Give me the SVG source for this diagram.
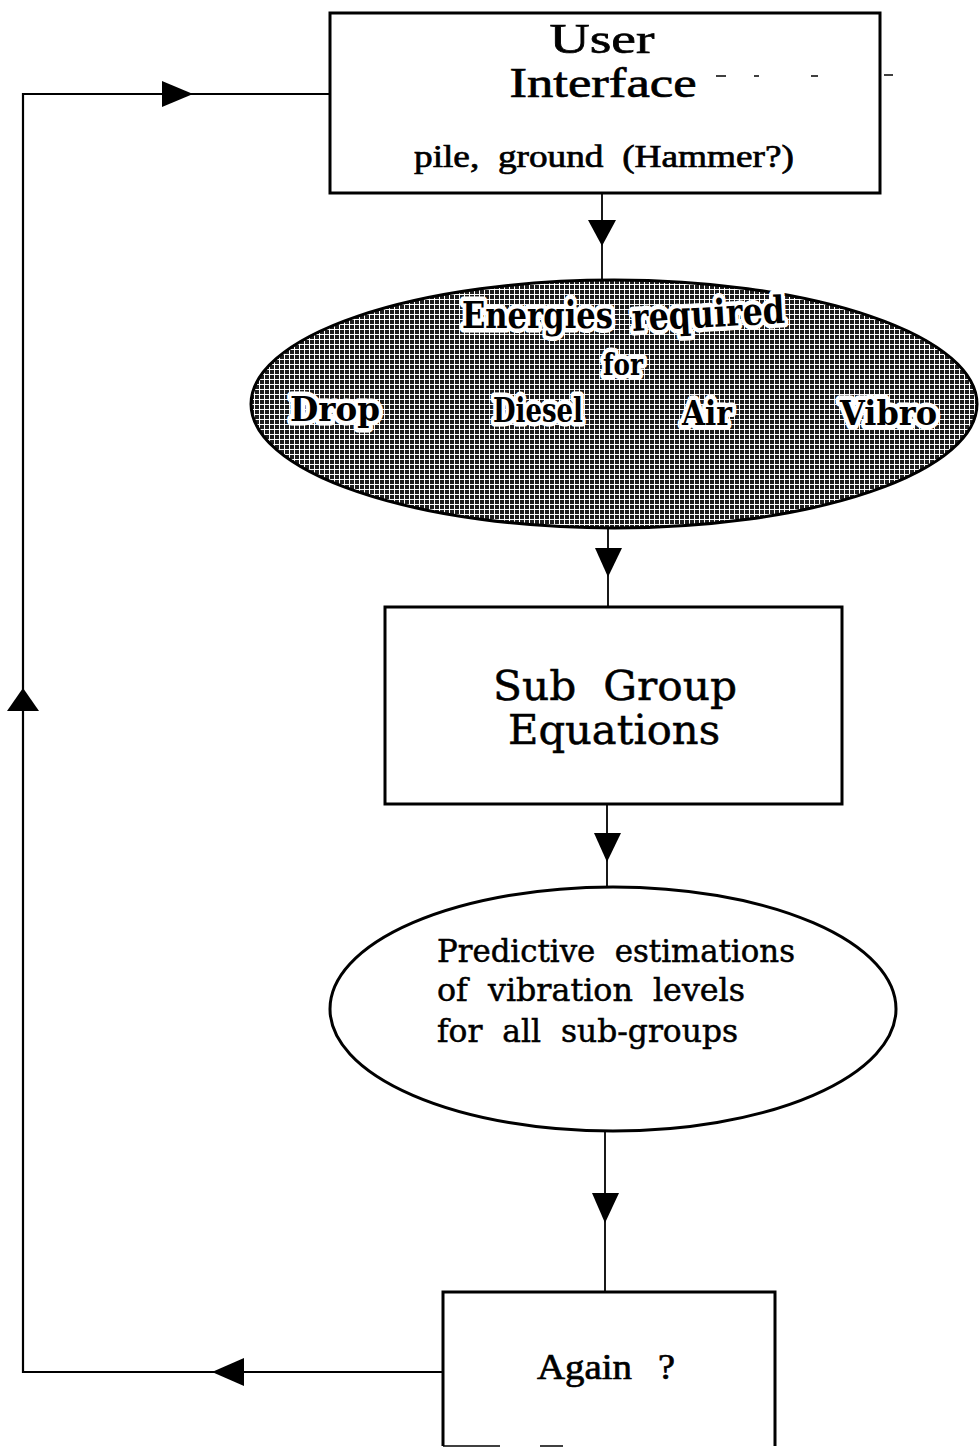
<svg xmlns="http://www.w3.org/2000/svg" width="979" height="1449" viewBox="0 0 979 1449">
<style>
.box{fill:#fff;stroke:#000;stroke-width:3}
.ell{stroke:#000;stroke-width:3}
.ln{fill:none;stroke:#000;stroke-width:1.8}
.loop{fill:none;stroke:#000;stroke-width:2.2}
.ah{fill:#000;stroke:none}
.t{font-family:"Liberation Serif","Times New Roman",serif;fill:#000;stroke:#000;stroke-width:0.7}
.s{font-family:"DejaVu Serif","Liberation Serif",serif;fill:#000;stroke:#000;stroke-width:0.5}
.b{font-family:"DejaVu Serif","Liberation Serif",serif;font-weight:bold;fill:#000;stroke:#fff;stroke-width:9;stroke-linejoin:round;paint-order:stroke}
.mark{stroke:#000;stroke-width:1.5}
</style>
<defs>
<pattern id="ht" width="5" height="5" patternUnits="userSpaceOnUse">
<rect width="5" height="5" fill="#fff"/>
<rect width="4" height="4" fill="#1e1e1e"/>
</pattern>
</defs>

<g id="connectors">
<path class="loop" d="M330 94 H23 V1372 H443"/>
<polygon class="ah" points="162,81 193,94 162,107"/>
<polygon class="ah" points="7,711 23,688 39,711"/>
<polygon class="ah" points="244,1358 212,1372 244,1386"/>
<path class="ln" d="M602 193 V280"/>
<polygon class="ah" points="588,220 616,220 602,246"/>
<path class="ln" d="M608 528 V607"/>
<polygon class="ah" points="595,548 622,548 608,577"/>
<path class="ln" d="M607 804 V887"/>
<polygon class="ah" points="594,833 621,833 607,862"/>
<path class="ln" d="M605 1131 V1292"/>
<polygon class="ah" points="592,1193 619,1193 605,1223"/>
</g>

<g id="user-interface">
<rect class="box" x="330" y="13" width="550" height="180"/>
<text class="t" x="602" y="53" font-size="43" text-anchor="middle" textLength="105" lengthAdjust="spacingAndGlyphs">User</text>
<text class="t" x="603" y="97" font-size="43" text-anchor="middle" textLength="187" lengthAdjust="spacingAndGlyphs">Interface</text>
<text class="t" x="604" y="167" font-size="32" text-anchor="middle" textLength="380" lengthAdjust="spacingAndGlyphs" xml:space="preserve">pile,  ground  (Hammer?)</text>
<line class="mark" x1="716" y1="76" x2="726" y2="76"/>
<line class="mark" x1="754" y1="76" x2="759" y2="76"/>
<line class="mark" x1="811" y1="76" x2="818" y2="76"/>
<line class="mark" x1="884" y1="75" x2="893" y2="75"/>
</g>

<g id="energies">
<ellipse class="ell" cx="614" cy="404" rx="363" ry="124" fill="url(#ht)"/>
<text class="b" x="462" y="328" font-size="38" textLength="151" lengthAdjust="spacingAndGlyphs">Energies</text>
<text class="b" x="632" y="327" font-size="38" textLength="153" lengthAdjust="spacingAndGlyphs" transform="rotate(-3 708 318)">required</text>
<text class="b" x="603" y="375" font-size="30" textLength="40" lengthAdjust="spacingAndGlyphs">for</text>
<text class="b" x="290" y="421" font-size="34" textLength="90" lengthAdjust="spacingAndGlyphs">Drop</text>
<text class="b" x="493" y="422" font-size="34" textLength="90" lengthAdjust="spacingAndGlyphs">Diesel</text>
<text class="b" x="682" y="425" font-size="34" textLength="50" lengthAdjust="spacingAndGlyphs">Air</text>
<text class="b" x="840" y="425" font-size="34" textLength="97" lengthAdjust="spacingAndGlyphs">Vibro</text>
</g>

<g id="sub-group">
<rect class="box" x="385" y="607" width="457" height="197"/>
<text class="s" x="615" y="700" font-size="41" text-anchor="middle" textLength="244" lengthAdjust="spacingAndGlyphs" xml:space="preserve">Sub  Group</text>
<text class="s" x="614" y="744" font-size="41" text-anchor="middle" textLength="212" lengthAdjust="spacingAndGlyphs">Equations</text>
</g>

<g id="predictive">
<ellipse class="ell" cx="613" cy="1009" rx="283" ry="122" fill="#fff"/>
<text class="s" x="437" y="962" font-size="31" textLength="358" lengthAdjust="spacingAndGlyphs" xml:space="preserve">Predictive  estimations</text>
<text class="s" x="437" y="1001" font-size="31" textLength="308" lengthAdjust="spacingAndGlyphs" xml:space="preserve">of  vibration  levels</text>
<text class="s" x="437" y="1042" font-size="31" textLength="301" lengthAdjust="spacingAndGlyphs" xml:space="preserve">for  all  sub-groups</text>
</g>

<g id="again">
<path class="box" d="M443 1446 V1292 H775 V1446"/>
<line class="mark" x1="443" y1="1446" x2="500" y2="1446" stroke-width="3"/>
<line class="mark" x1="540" y1="1446" x2="563" y2="1446" stroke-width="3"/>
<text class="t" x="537" y="1379" font-size="35" textLength="95" lengthAdjust="spacingAndGlyphs">Again</text>
<text class="t" x="658" y="1379" font-size="35" textLength="17" lengthAdjust="spacingAndGlyphs">?</text>
</g>
</svg>
